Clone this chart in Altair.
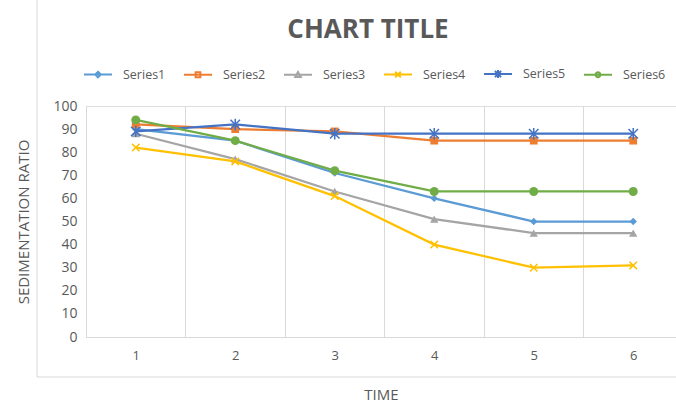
import altair as alt
import pandas as pd

# Time steps and sedimentation ratio readings per series
time = [1, 2, 3, 4, 5, 6]
series_names = ["Series1", "Series2", "Series3", "Series4", "Series5", "Series6"]
series1 = [90, 85, 71, 60, 50, 50]
series2 = [92, 90, 89, 85, 85, 85]
series3 = [88, 77, 63, 51, 45, 45]
series4 = [82, 76, 61, 40, 30, 31]
series5 = [89, 92, 88, 88, 88, 88]
series6 = [94, 85, 72, 63, 63, 63]
x_ticks = [1, 2, 3, 4, 5, 6]
y_ticks = [0, 10, 20, 30, 40, 50, 60, 70, 80, 90, 100]

colors = ["#5B9BD5", "#ED7D31", "#A5A5A5", "#FFC000", "#4472C4", "#70AD47"]

FONT = "Open Sans"
TEXT = "#595959"
GRID = "#d9d9d9"

rows = []
for name, vals in zip(series_names, [series1, series2, series3, series4, series5, series6]):
    for t, v in zip(time, vals):
        rows.append({"time": t, "ratio": v, "series": name})
df = pd.DataFrame(rows)

# gridlines sit on the category boundaries, labels are shifted back to the centres
boundaries = [t - 0.5 for t in x_ticks]
x_enc = alt.X(
    "time:Q",
    scale=alt.Scale(domain=[0.5, 6.43], nice=False, zero=False),
    axis=alt.Axis(
        values=boundaries, labelExpr="datum.value + 0.5", labelOffset=49.7,
        labelFlush=False, labelOverlap=False,
        grid=True, gridColor=GRID, gridWidth=1, ticks=False,
        domainColor=GRID, domainWidth=1,
        labelColor=TEXT, labelFont=FONT, labelFontSize=13, labelPadding=12,
        title="TIME", titleFont=FONT, titleFontSize=15, titleFontWeight="normal",
        titleColor=TEXT, titlePadding=25,
    ),
)
y_enc = alt.Y(
    "ratio:Q",
    scale=alt.Scale(domain=[0, 100], nice=False),
    axis=alt.Axis(
        values=y_ticks, grid=False, ticks=False, domain=False,
        labelFlush=False, labelOverlap=False,
        labelColor=TEXT, labelFont=FONT, labelFontSize=14, labelPadding=9,
        title="SEDIMENTATION RATIO", titleFont=FONT, titleFontSize=15,
        titleFontWeight="normal", titleColor=TEXT, titlePadding=21,
    ),
)

# marker style per series: shape, filled, size
markers = {
    "Series1": ("diamond", True, 55),
    "Series2": ("square", True, 60),
    "Series3": ("triangle-up", True, 70),
    "Series4": ("M-1,-1L1,1M-1,1L1,-1", False, 55),
    "Series5": ("M-1,-1L1,1M-1,1L1,-1M0,-1.2L0,1.2", False, 90),
    "Series6": ("circle", True, 80),
}

# legend glyphs: a line segment with a small marker in the middle
stub = "M-1,0L1,0"
legend_paths = [
    stub + "M0,-0.2L0.2,0L0,0.2L-0.2,0Z",
    stub + "M-0.17,-0.17H0.17V0.17H-0.17Z",
    stub + "M0,-0.2L0.2,0.16H-0.2Z",
    stub + "M-0.2,-0.2L0.2,0.2M-0.2,0.2L0.2,-0.2",
    stub + "M-0.22,-0.22L0.22,0.22M-0.22,0.22L0.22,-0.22M0,-0.28V0.28",
    stub + "M-0.17,0A0.17,0.17 0 1,0 0.17,0A0.17,0.17 0 1,0 -0.17,0Z",
]

base = alt.Chart(df)
layers = []
for name, color in zip(series_names, colors):
    shape, filled, size = markers[name]
    sub = base.transform_filter(alt.datum.series == name)
    layers.append(sub.mark_line(color=color, strokeWidth=2.25).encode(x=x_enc, y=y_enc))
    layers.append(
        sub.mark_point(shape=shape, filled=filled, color=color, size=size,
                       strokeWidth=1.5, opacity=1).encode(x=x_enc, y=y_enc)
    )

legend_props = dict(
    orient="none", legendX=-3, legendY=-47, direction="horizontal", title=None,
    symbolSize=784, symbolStrokeWidth=2, symbolFillColor="transparent",
    labelFont=FONT, labelFontSize=12.5, labelColor=TEXT, labelOffset=10,
    columnPadding=14, padding=0, gridAlign="all",
)
legend_layer = base.transform_filter("false").mark_point(filled=False, opacity=1).encode(
    x=x_enc, y=y_enc,
    color=alt.Color("series:N", scale=alt.Scale(domain=series_names, range=colors),
                    legend=alt.Legend(**legend_props)),
    shape=alt.Shape("series:N", scale=alt.Scale(domain=series_names, range=legend_paths),
                    legend=alt.Legend(**legend_props)),
)

# outer chart-area border (left and bottom edges)
frame_df = pd.DataFrame({"k": [0]})
frame_left = alt.Chart(frame_df).mark_rule(color=GRID, strokeWidth=1).encode(
    x=alt.value(-49), y=alt.value(-106), y2=alt.value(271)
)
frame_bottom = alt.Chart(frame_df).mark_rule(color=GRID, strokeWidth=1).encode(
    x=alt.value(-49), x2=alt.value(600), y=alt.value(271)
)

chart = alt.layer(frame_left, frame_bottom, *layers, legend_layer).properties(
    width=590,
    height=231,
    autosize=alt.AutoSizeParams(type="none"),
    padding={"left": 86, "top": 106, "right": 0, "bottom": 68},
    title=alt.TitleParams(
        "CHART TITLE", anchor="middle", frame="group", font=FONT, fontSize=26,
        fontWeight="bold", color=TEXT, offset=0, baseline="alphabetic", dy=64, dx=-13,
    ),
).configure_view(stroke=None).configure(background="white")

chart.save("out.html", embed_options={"renderer": "svg", "actions": False})
